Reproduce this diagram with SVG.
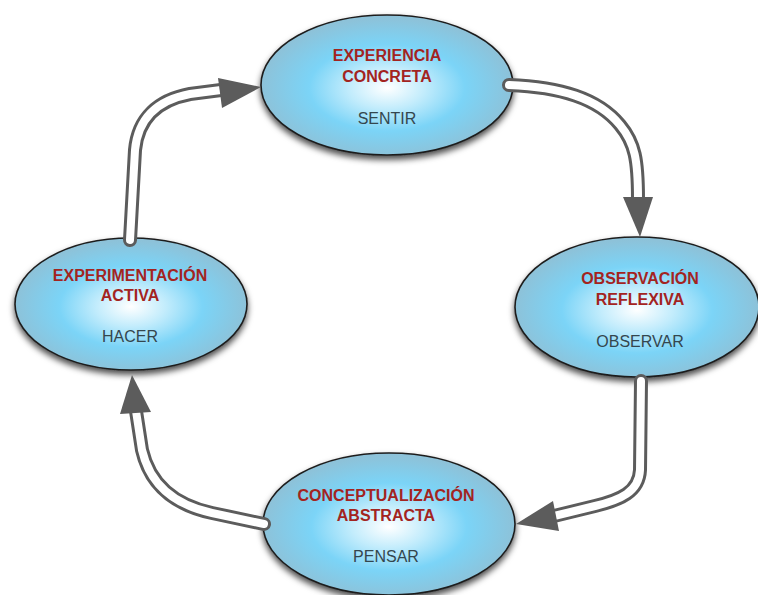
<svg xmlns="http://www.w3.org/2000/svg" width="758" height="595" viewBox="0 0 758 595">
<defs>
<radialGradient id="bluefill" cx="0.5" cy="0.52" r="0.5" gradientUnits="objectBoundingBox">
<stop offset="0" stop-color="#ffffff"/>
<stop offset="0.3" stop-color="#c2ecfc"/>
<stop offset="0.62" stop-color="#7bd4f7"/>
<stop offset="1" stop-color="#8dc2d9"/>
</radialGradient>
<filter id="shadow" x="-20%" y="-20%" width="140%" height="150%">
<feGaussianBlur in="SourceAlpha" stdDeviation="3" result="blur"/>
<feOffset in="blur" dx="0" dy="4" result="off"/>
<feFlood flood-color="#000000" flood-opacity="0.7" result="col"/>
<feComposite in="col" in2="off" operator="in" result="sh"/>
<feMerge><feMergeNode in="sh"/><feMergeNode in="SourceGraphic"/></feMerge>
</filter>
</defs>
<style>
.t{font-family:"Liberation Sans",Arial,sans-serif;font-size:16px;text-anchor:middle}
.h{font-weight:bold;fill:#a3241f}
.s{fill:#34464e}
.tube-o{fill:none;stroke:#5c5c5c;stroke-width:14;stroke-linecap:round}
.tube-i{fill:none;stroke:#ffffff;stroke-width:8;stroke-linecap:round}
.head{fill:#5c5c5c}
</style>
<rect width="758" height="595" fill="#ffffff"/>
<g id="node-experiencia">
<ellipse cx="387" cy="85" rx="126" ry="70" fill="url(#bluefill)" stroke="#1e1e1e" stroke-width="1.6" filter="url(#shadow)"/>
<text class="t h" x="387" y="61">EXPERIENCIA</text>
<text class="t h" x="387" y="82">CONCRETA</text>
<text class="t s" x="387" y="124">SENTIR</text>
</g>
<g id="node-observacion">
<ellipse cx="637" cy="307" rx="122" ry="70" fill="url(#bluefill)" stroke="#1e1e1e" stroke-width="1.6" filter="url(#shadow)"/>
<text class="t h" x="640" y="284">OBSERVACIÓN</text>
<text class="t h" x="640" y="305">REFLEXIVA</text>
<text class="t s" x="640" y="347">OBSERVAR</text>
</g>
<g id="node-conceptualizacion">
<ellipse cx="389" cy="524" rx="126" ry="71" fill="url(#bluefill)" stroke="#1e1e1e" stroke-width="1.6" filter="url(#shadow)"/>
<text class="t h" x="386" y="501">CONCEPTUALIZACIÓN</text>
<text class="t h" x="386" y="521">ABSTRACTA</text>
<text class="t s" x="386" y="562">PENSAR</text>
</g>
<g id="node-experimentacion">
<ellipse cx="131" cy="304" rx="116" ry="66" fill="url(#bluefill)" stroke="#1e1e1e" stroke-width="1.6" filter="url(#shadow)"/>
<text class="t h" x="130" y="281">EXPERIMENTACIÓN</text>
<text class="t h" x="130" y="301">ACTIVA</text>
<text class="t s" x="130" y="342">HACER</text>
</g>
<g id="connectors">
<path class="tube-o" d="M509,85 C560,87 598,98 620,125 C635,143 638,160 638,199"/>
<path class="tube-i" d="M509,85 C560,87 598,98 620,125 C635,143 638,160 638,199"/>
<polygon class="head" points="623,197 653,197 640,237"/>
<path class="tube-o" d="M641,381 L640,470 C639,492 620,500 595,506 L554,516"/>
<path class="tube-i" d="M641,381 L640,470 C639,492 620,500 595,506 L554,516"/>
<polygon class="head" points="553,501 559,531 516,524"/>
<path class="tube-o" d="M264,524 L212,513 C175,505 150,485 142,450 L136,411"/>
<path class="tube-i" d="M264,524 L212,513 C175,505 150,485 142,450 L136,411"/>
<polygon class="head" points="120,414 151,412 132,375"/>
<path class="tube-o" d="M130,240 L135,150 C138,118 158,100 190,94 L221,90"/>
<path class="tube-i" d="M130,240 L135,150 C138,118 158,100 190,94 L221,90"/>
<polygon class="head" points="218,78 222,108 261,87"/>
</g>
</svg>
